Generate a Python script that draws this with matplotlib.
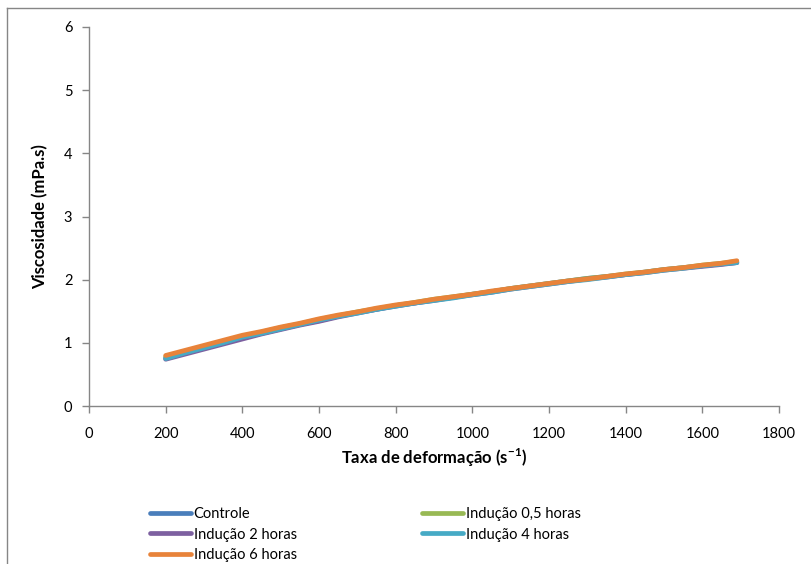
import matplotlib
matplotlib.use('Agg')
import matplotlib.pyplot as plt
from matplotlib.lines import Line2D

plt.rcParams['font.family'] = ['Lato', 'DejaVu Sans']

# shear rate (s-1)
taxa = [200, 250, 300, 350, 400, 450, 500, 550, 600, 650, 700, 750, 800, 850, 900, 950,
        1000, 1050, 1100, 1150, 1200, 1250, 1300, 1350, 1400, 1450, 1500, 1550, 1600, 1650, 1690]

# viscosity (mPa.s) per treatment
controle = [0.76, 0.84, 0.92, 1.00, 1.08, 1.15, 1.22, 1.29, 1.35, 1.42, 1.48, 1.53, 1.59, 1.63, 1.68, 1.72,
            1.77, 1.81, 1.86, 1.90, 1.94, 1.98, 2.02, 2.05, 2.08, 2.12, 2.16, 2.19, 2.22, 2.25, 2.27]
inducao_05 = [0.78, 0.86, 0.94, 1.02, 1.10, 1.17, 1.24, 1.30, 1.37, 1.43, 1.49, 1.54, 1.59, 1.64, 1.69, 1.73,
              1.77, 1.81, 1.86, 1.90, 1.94, 1.98, 2.02, 2.05, 2.09, 2.12, 2.16, 2.19, 2.23, 2.26, 2.29]
inducao_2 = [0.74, 0.82, 0.90, 0.98, 1.06, 1.14, 1.21, 1.28, 1.34, 1.41, 1.47, 1.53, 1.58, 1.63, 1.67, 1.72,
             1.76, 1.80, 1.85, 1.89, 1.93, 1.97, 2.01, 2.04, 2.08, 2.11, 2.15, 2.18, 2.21, 2.24, 2.27]
inducao_4 = [0.75, 0.84, 0.92, 1.00, 1.09, 1.15, 1.22, 1.29, 1.36, 1.42, 1.47, 1.53, 1.58, 1.63, 1.67, 1.71,
             1.76, 1.80, 1.85, 1.89, 1.93, 1.97, 2.00, 2.04, 2.08, 2.11, 2.15, 2.18, 2.22, 2.25, 2.27]
inducao_6 = [0.80, 0.88, 0.96, 1.04, 1.12, 1.18, 1.25, 1.31, 1.38, 1.44, 1.49, 1.55, 1.60, 1.64, 1.69, 1.73,
             1.77, 1.82, 1.86, 1.90, 1.94, 1.98, 2.01, 2.05, 2.09, 2.12, 2.16, 2.19, 2.23, 2.26, 2.30]

series = [controle, inducao_05, inducao_2, inducao_4, inducao_6]
labels = ['Controle', 'Indução 0,5 horas', 'Indução 2 horas', 'Indução 4 horas', 'Indução 6 horas']
colors = ['#4A7EBB', '#98B954', '#7D60A0', '#46AAC5', '#E8833A']

fig = plt.figure(figsize=(8.11, 5.64), dpi=100)
ax = fig.add_axes([89 / 811, 1 - 406 / 564, (779 - 89) / 811, (406 - 27) / 564])

lines = []
for vals, lab, col in zip(series, labels, colors):
    ln, = ax.plot(taxa, vals, color=col, lw=3.4, label=lab, solid_capstyle='round')
    lines.append(ln)

ax.set_xlim(0, 1800)
ax.set_ylim(0, 6)
ax.set_xticks(range(0, 1801, 200))
ax.set_yticks(range(0, 7))

axis_gray = '#868686'
for side in ['top', 'right']:
    ax.spines[side].set_visible(False)
for side in ['left', 'bottom']:
    ax.spines[side].set_color(axis_gray)
    ax.spines[side].set_linewidth(1.0)
ax.tick_params(axis='both', direction='out', length=5, color=axis_gray, labelsize=10.5,
               labelcolor='black', width=1.0)
ax.tick_params(axis='x', pad=10)
ax.tick_params(axis='y', pad=7)

ax.set_xlabel('Taxa de deformação (s$^{\\mathregular{-1}}$)', fontsize=12, fontweight='bold')
ax.xaxis.set_label_coords(0.5, -0.108)
ax.set_ylabel('Viscosidade (mPa.s)', fontsize=12, fontweight='bold', labelpad=11)

# chart border
fig.add_artist(Line2D([6.5 / 811, 6.5 / 811], [0, 1 - 7.5 / 564], transform=fig.transFigure, color=axis_gray, lw=1))
fig.add_artist(Line2D([6.5 / 811, 1], [1 - 7.5 / 564, 1 - 7.5 / 564], transform=fig.transFigure, color=axis_gray, lw=1))

# legend filled row by row like the original
order = [0, 2, 4, 1, 3]
fig.legend([lines[i] for i in order], [labels[i] for i in order],
           loc='upper left', bbox_to_anchor=(150 / 811, 1 - 507 / 564), ncol=2, frameon=False,
           fontsize=10.5, handlelength=2.8, handletextpad=0.2, columnspacing=8.6,
           labelspacing=0.45, borderpad=0, borderaxespad=0)

fig.savefig('out.png', dpi=100)
